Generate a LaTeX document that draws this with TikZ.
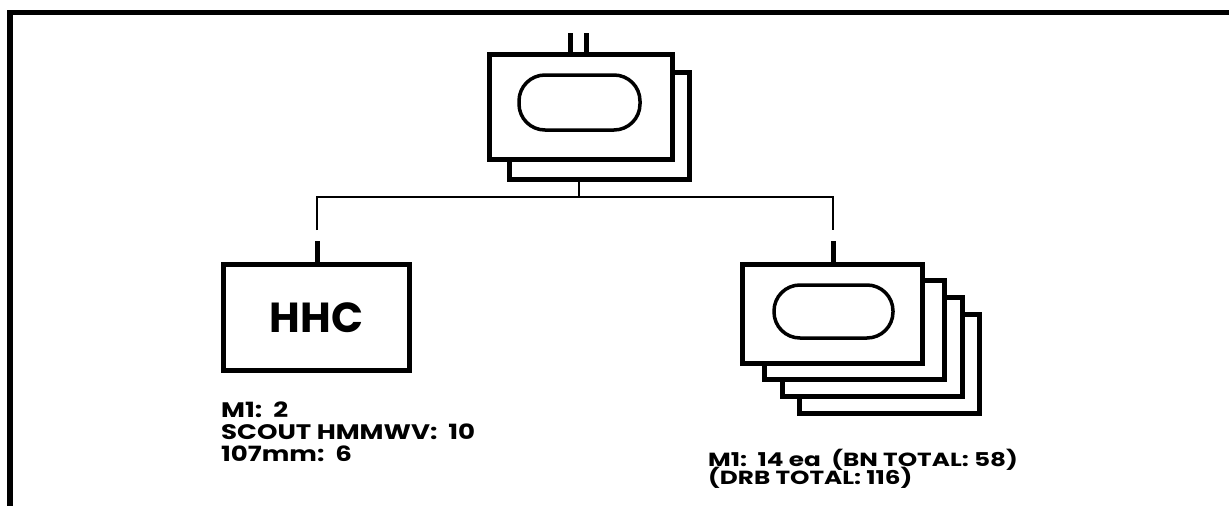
\documentclass[tikz,border=0pt]{standalone}
\usepackage{fontspec}
\setmainfont{Poppins}
\newfontfamily\widefont{Poppins}[FakeStretch=1.24]
\newfontfamily\widerfont{Poppins}[FakeStretch=1.3]
\begin{document}
\begin{tikzpicture}[x=1pt,y=-1pt,
  unitbox/.style={draw, fill=white, line width=5pt, inner sep=0pt, minimum width=180pt, minimum height=99pt},
  oval/.style={draw, line width=3.5pt, rounded corners=26pt},
  thinline/.style={line width=1.5pt},
  tick/.style={line width=5pt},
  lbl/.style={inner sep=0pt, anchor=base west, text height=16pt, text depth=4pt, font=\widefont\fontsize{21}{21}\selectfont\bfseries},
  lblr/.style={inner sep=0pt, anchor=base west, text height=14pt, text depth=3pt, font=\widerfont\fontsize{19}{19}\selectfont\bfseries}
]
\useasboundingbox (0,0) rectangle (1229,506);
% frame
\draw[line width=6pt] (10,506) -- (10,12.5);
\draw[line width=5pt] (7,12.5) -- (1229,12.5);

% top unit
\node[unitbox, minimum width=180pt, minimum height=107pt] (topback) at (599.5,126) {};
\node[unitbox, minimum width=183pt, minimum height=105pt] (topfront) at (581,107) {};
\draw[oval] (519,75) rectangle (640,130);
\coordinate (t1) at (570.5,33);
\coordinate (t2) at (586.5,33);
\draw[tick] (t1) -- (t1 |- topfront.north);
\draw[tick] (t2) -- (t2 |- topfront.north);

% HHC
\node[unitbox, minimum width=186pt, minimum height=106pt, font=\fontsize{42}{42}\selectfont\bfseries] (hhc) at (316.5,317.5) {HHC};

% company stack
\node[unitbox] (c4) at (889.5,364) {};
\node[unitbox] (c3) at (872,347) {};
\node[unitbox] (c2) at (854,330) {};
\node[unitbox] (c1) at (832.5,314) {};
\draw[oval] (774,285) rectangle (893,338);

% connectors
\coordinate (bus) at (579,197);
\coordinate (lgap) at (317,230);
\coordinate (rgap) at (833,230);
\coordinate (ltick) at (317,241);
\coordinate (rtick) at (833,241);
\draw[thinline] (bus |- topback.south) -- (bus);
\draw[thinline] (lgap) -- (lgap |- bus) -- (rgap |- bus) -- (rgap);
\draw[tick] (ltick) -- (ltick |- hhc.north);
\draw[tick] (rtick) -- (rtick |- c1.north);

% labels
\node[lbl] (l1) at (221,417) {M1:\ \ 2};
\node[lbl] (l2) at (221,439) {SCOUT HMMWV:\ \ 10};
\node[lbl] (l3) at (221,461) {107mm:\ \ 6};
\node[lblr] (r1) at (708,466) {M1:\ \ 14 ea\ \ (BN TOTAL: 58)};
\node[lblr] (r2) at (708,484) {(DRB TOTAL: 116)};
\end{tikzpicture}
\end{document}
